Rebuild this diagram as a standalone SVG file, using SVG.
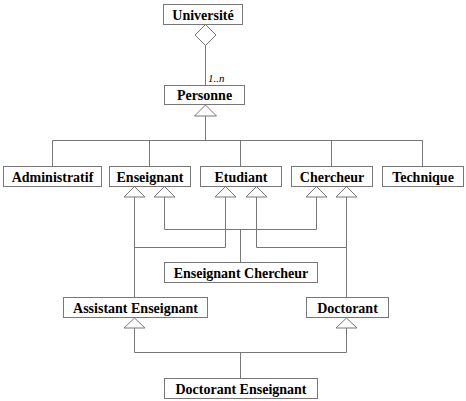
<svg xmlns="http://www.w3.org/2000/svg" width="466" height="401" viewBox="0 0 466 401">
<style>
.box{fill:#fff;stroke:#777;stroke-width:1}
.t{font-family:"Liberation Serif","Times New Roman",serif;font-weight:bold;font-size:14px;fill:#000;text-anchor:middle}
.c{fill:none;stroke:#777;stroke-width:1}
.tri{fill:#fff;stroke:#777;stroke-width:1}
.lbl{font-family:"Liberation Serif","Times New Roman",serif;font-style:italic;font-size:11px;fill:#000}
</style>
<rect width="466" height="401" fill="#fff"/>
<g id="connectors">
  <!-- aggregation Université - Personne -->
  <line class="c" x1="205.5" y1="45" x2="205.5" y2="85.5"/>
  <polygon class="tri" points="205.5,24.5 216,35 205.5,45.5 195,35"/>
  <text class="lbl" x="208" y="82">1..n</text>
  <!-- Personne generalization -->
  <line class="c" x1="205.5" y1="116" x2="205.5" y2="140.5"/>
  <polyline class="c" points="52.5,166 52.5,140.5 422.5,140.5 422.5,166"/>
  <line class="c" x1="149.5" y1="140.5" x2="149.5" y2="166"/>
  <line class="c" x1="240.5" y1="140.5" x2="240.5" y2="166"/>
  <line class="c" x1="331.5" y1="140.5" x2="331.5" y2="166"/>
  <polygon class="tri" points="205.5,105 216.5,116 194.5,116"/>
  <!-- Enseignant Chercheur -->
  <polyline class="c" points="164.5,197 164.5,229.5 316.5,229.5 316.5,197"/>
  <line class="c" x1="240.5" y1="229.5" x2="240.5" y2="262"/>
  <!-- Assistant Enseignant -->
  <line class="c" x1="134.5" y1="197" x2="134.5" y2="297"/>
  <polyline class="c" points="134.5,247.5 225.5,247.5 225.5,197"/>
  <!-- Doctorant -->
  <polyline class="c" points="256.5,197 256.5,247.5 346.5,247.5"/>
  <line class="c" x1="346.5" y1="197" x2="346.5" y2="297"/>
  <!-- Doctorant Enseignant -->
  <polyline class="c" points="134.5,328 134.5,352.5 346.5,352.5 346.5,328"/>
  <line class="c" x1="240.5" y1="352.5" x2="240.5" y2="378"/>
  <!-- triangles -->
  <polygon class="tri" points="134.5,186.5 145,197 124,197"/>
  <polygon class="tri" points="164.5,186.5 175,197 154,197"/>
  <polygon class="tri" points="225.5,186.5 236,197 215,197"/>
  <polygon class="tri" points="256.5,186.5 267,197 246,197"/>
  <polygon class="tri" points="316.5,186.5 327,197 306,197"/>
  <polygon class="tri" points="346.5,186.5 357,197 336,197"/>
  <polygon class="tri" points="134.5,318 145,328 124,328"/>
  <polygon class="tri" points="346.5,318 357,328 336,328"/>
</g>
<g id="universite"><rect class="box" x="163.5" y="4.5" width="79" height="20"/><text class="t" x="203" y="19.5">Université</text></g>
<g id="personne"><rect class="box" x="164.5" y="85.5" width="80" height="19"/><text class="t" x="204.5" y="100">Personne</text></g>
<g id="administratif"><rect class="box" x="3.5" y="166.5" width="98" height="20"/><text class="t" x="52.5" y="181.5">Administratif</text></g>
<g id="enseignant"><rect class="box" x="109.5" y="166.5" width="81" height="20"/><text class="t" x="150" y="181.5">Enseignant</text></g>
<g id="etudiant"><rect class="box" x="200.5" y="166.5" width="81" height="20"/><text class="t" x="241" y="181.5">Etudiant</text></g>
<g id="chercheur"><rect class="box" x="291.5" y="166.5" width="81" height="20"/><text class="t" x="332" y="181.5">Chercheur</text></g>
<g id="technique"><rect class="box" x="382.5" y="166.5" width="81" height="20"/><text class="t" x="423" y="181.5">Technique</text></g>
<g id="enseignant-chercheur"><rect class="box" x="164.5" y="262.5" width="153" height="20"/><text class="t" x="241" y="277.5">Enseignant Chercheur</text></g>
<g id="assistant-enseignant"><rect class="box" x="63.5" y="297.5" width="144" height="20"/><text class="t" x="135.5" y="312.5">Assistant Enseignant</text></g>
<g id="doctorant"><rect class="box" x="306.5" y="297.5" width="82" height="20"/><text class="t" x="347.5" y="312.5">Doctorant</text></g>
<g id="doctorant-enseignant"><rect class="box" x="164.5" y="378.5" width="153" height="20"/><text class="t" x="241" y="393.5">Doctorant Enseignant</text></g>
</svg>
